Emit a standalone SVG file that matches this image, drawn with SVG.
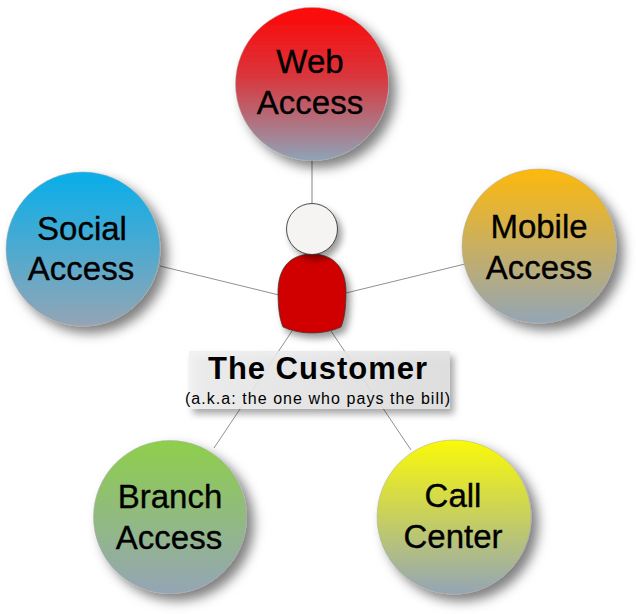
<svg xmlns="http://www.w3.org/2000/svg" width="636" height="614" viewBox="0 0 636 614">
<defs>
<linearGradient id="gRed" x1="0" y1="0" x2="0" y2="1"><stop offset="0" stop-color="#ff0505"/><stop offset="0.45" stop-color="#d9363c"/><stop offset="1" stop-color="#8fa3b8"/></linearGradient>
<linearGradient id="gBlue" x1="0" y1="0" x2="0" y2="1"><stop offset="0" stop-color="#07aeea"/><stop offset="1" stop-color="#94a5b5"/></linearGradient>
<linearGradient id="gOrange" x1="0" y1="0" x2="0" y2="1"><stop offset="0" stop-color="#fdb90c"/><stop offset="1" stop-color="#94a5b5"/></linearGradient>
<linearGradient id="gGreen" x1="0" y1="0" x2="0" y2="1"><stop offset="0" stop-color="#8ecf4a"/><stop offset="1" stop-color="#94a5b5"/></linearGradient>
<linearGradient id="gYellow" x1="0" y1="0" x2="0" y2="1"><stop offset="0" stop-color="#fafa08"/><stop offset="1" stop-color="#94a5b5"/></linearGradient>
<linearGradient id="gLabel" x1="0" y1="0" x2="1" y2="0"><stop offset="0" stop-color="#f0f0f0"/><stop offset="1" stop-color="#e0e0e0"/></linearGradient>
<filter id="sh" x="-20%" y="-20%" width="150%" height="150%"><feDropShadow dx="7" dy="7" stdDeviation="6" flood-color="#000" flood-opacity="0.5"/></filter>
<filter id="shs" x="-20%" y="-20%" width="140%" height="140%"><feDropShadow dx="4" dy="5" stdDeviation="3.500" flood-color="#000" flood-opacity="0.4"/></filter>
</defs>
<style>
.c{stroke:#777;stroke-width:.9;stroke-opacity:.9}
.n{stroke:#a8a8a8;stroke-width:.5;filter:url(#sh)}
text{font-family:"Liberation Sans",Arial,sans-serif;fill:#000;text-anchor:middle}
.l{font-size:33px;stroke:#000;stroke-width:.35}
</style>
<g id="connectors" fill="none">
<path class="c" d="M312 158V205" style="stroke:#bbb;stroke-width:2"/>
<path class="c" d="M160 266L279 295"/>
<path class="c" d="M465 264L346 293"/>
<path class="c" d="M292 331L214 448"/>
<path class="c" d="M331 331L411 450"/>
</g>
<g id="web"><circle class="n" cx="312" cy="84" r="76.500" fill="url(#gRed)"/><text class="l" x="310" y="73">Web</text><text class="l" x="310" y="114">Access</text></g>
<g id="social"><circle class="n" cx="83" cy="249" r="77" fill="url(#gBlue)"/><text class="l" x="82" y="240">Social</text><text class="l" x="81" y="280">Access</text></g>
<g id="mobile"><circle class="n" cx="539" cy="246" r="77" fill="url(#gOrange)"/><text class="l" x="539" y="238">Mobile</text><text class="l" x="539" y="279">Access</text></g>
<g id="branch"><circle class="n" cx="170" cy="517" r="76.500" fill="url(#gGreen)"/><text class="l" x="170" y="508">Branch</text><text class="l" x="169" y="549">Access</text></g>
<g id="call"><circle class="n" cx="454" cy="517" r="77" fill="url(#gYellow)"/><text class="l" x="453" y="507">Call</text><text class="l" x="453" y="548">Center</text></g>
<g id="customer">
<rect x="189" y="351" width="261" height="58" fill="url(#gLabel)" fill-opacity=".85" filter="url(#shs)"/>
<path d="M312 254C296 254 279 262 278 290C278 305 279 318 283 327C292 331 302 333 312 333C322 333 332 331 341 327C345 318 346 305 346 290C345 262 328 254 312 254Z" fill="#d10000" stroke="#333" stroke-width=".7" filter="url(#shs)"/>
<circle cx="312" cy="229" r="25.500" fill="#f6f4f2" stroke="#222" stroke-width=".8" filter="url(#shs)"/>
<text x="318" y="379" font-size="31" font-weight="bold" letter-spacing=".95">The Customer</text>
<text x="318" y="404" font-size="16" letter-spacing="1.050">(a.k.a: the one who pays the bill)</text>
</g>
</svg>
